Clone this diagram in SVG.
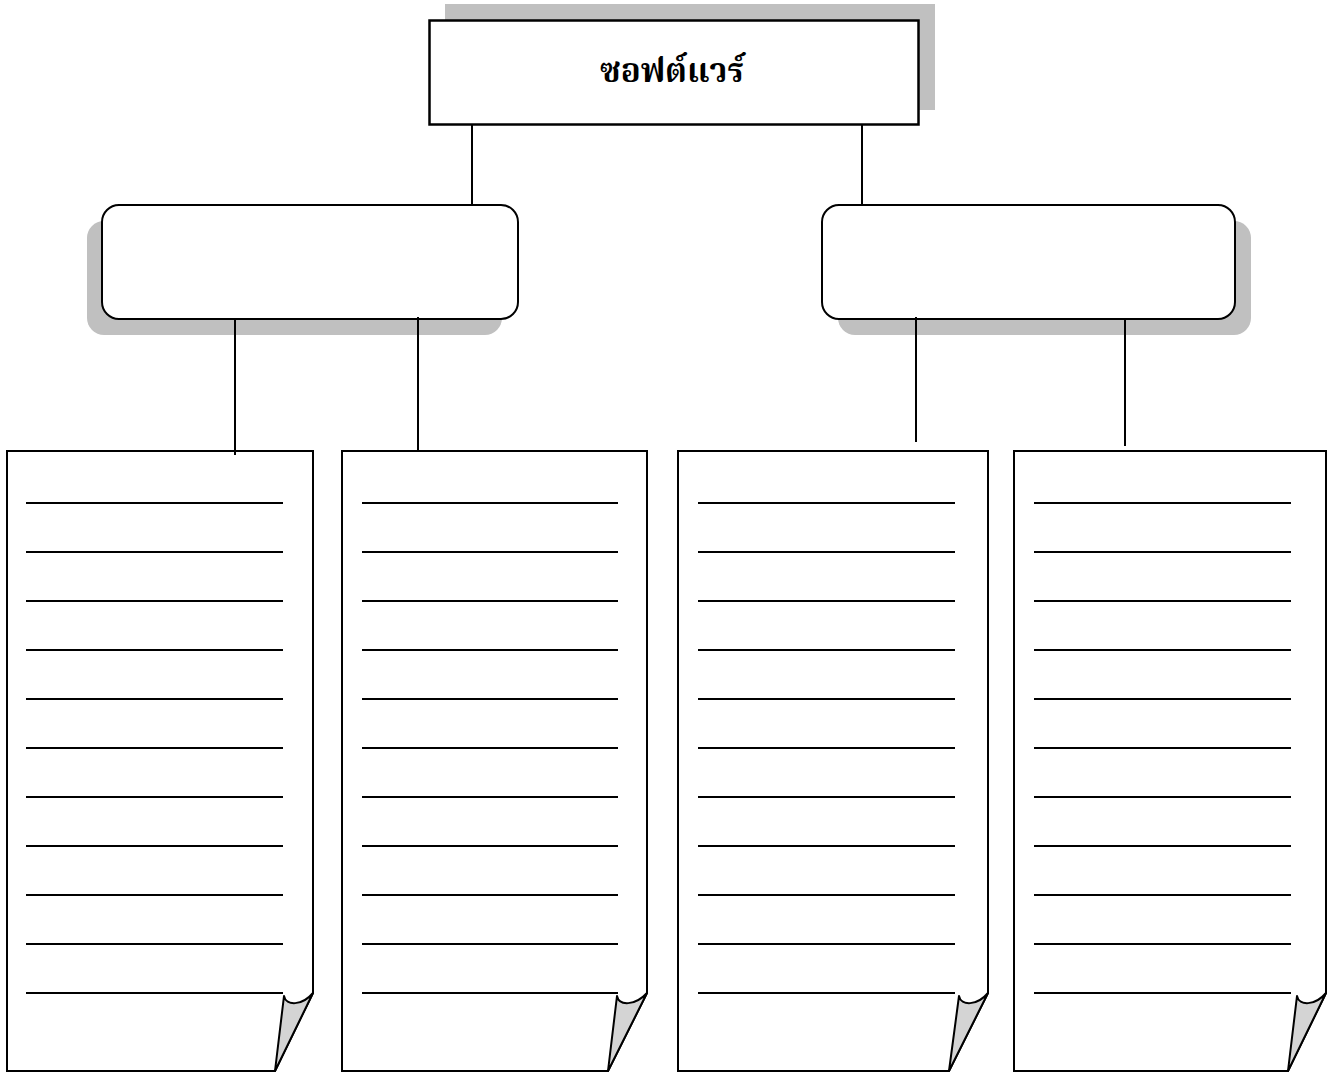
<svg xmlns="http://www.w3.org/2000/svg" width="1330" height="1073" viewBox="0 0 1330 1073">
<style>
.shadow{fill:#c0c0c0;stroke:none}
.box{fill:#fff;stroke:#000;stroke-width:2}
.conn{stroke:#000;stroke-width:2;fill:none}
.page{fill:#fff;stroke:#000;stroke-width:2;stroke-linejoin:miter}
.curl{fill:#d4d4d4;stroke:#000;stroke-width:2;stroke-linejoin:round}
.rule{stroke:#000;stroke-width:2}
.title{font-family:"Liberation Serif","Noto Serif Thai","Noto Sans Thai","DejaVu Serif",serif;font-weight:bold;font-size:33px;fill:#000}
</style>
<rect width="1330" height="1073" fill="#fff"/>
<g id="root">
<rect class="shadow" x="445" y="4" width="490" height="106"/>
<rect x="429.5" y="20.5" width="489" height="104" fill="#fff" stroke="#000" stroke-width="2.5"/>
<text class="title" x="672" y="82" text-anchor="middle">ซอฟต์แวร์</text>
</g>
<g id="left-box">
<rect class="shadow" x="87" y="221" width="415" height="114" rx="17"/>
<rect class="box" x="102" y="205" width="416" height="114" rx="17"/>
</g>
<g id="right-box">
<rect class="shadow" x="838" y="221" width="413" height="114" rx="17"/>
<rect class="box" x="822" y="205" width="413" height="114" rx="17"/>
</g>
<g id="page1">
<path class="page" d="M7,451 H313 V993 L275,1071 H7 Z"/>
<path class="curl" d="M313,993 L275,1071 L284,996 C286,1006 302,1006 313,993 Z"/>
<g class="rule">
<line x1="26" y1="503" x2="283" y2="503"/><line x1="26" y1="552" x2="283" y2="552"/><line x1="26" y1="601" x2="283" y2="601"/><line x1="26" y1="650" x2="283" y2="650"/><line x1="26" y1="699" x2="283" y2="699"/><line x1="26" y1="748" x2="283" y2="748"/><line x1="26" y1="797" x2="283" y2="797"/><line x1="26" y1="846" x2="283" y2="846"/><line x1="26" y1="895" x2="283" y2="895"/><line x1="26" y1="944" x2="283" y2="944"/><line x1="26" y1="993" x2="283" y2="993"/>
</g>
</g>
<g id="page2">
<path class="page" d="M342,451 H647 V993 L608,1071 H342 Z"/>
<path class="curl" d="M647,993 L608,1071 L617,996 C619,1006 635,1006 647,993 Z"/>
<g class="rule">
<line x1="362" y1="503" x2="618" y2="503"/><line x1="362" y1="552" x2="618" y2="552"/><line x1="362" y1="601" x2="618" y2="601"/><line x1="362" y1="650" x2="618" y2="650"/><line x1="362" y1="699" x2="618" y2="699"/><line x1="362" y1="748" x2="618" y2="748"/><line x1="362" y1="797" x2="618" y2="797"/><line x1="362" y1="846" x2="618" y2="846"/><line x1="362" y1="895" x2="618" y2="895"/><line x1="362" y1="944" x2="618" y2="944"/><line x1="362" y1="993" x2="618" y2="993"/>
</g>
</g>
<g id="page3">
<path class="page" d="M678,451 H988 V993 L949,1071 H678 Z"/>
<path class="curl" d="M988,993 L949,1071 L959,996 C961,1006 977,1006 988,993 Z"/>
<g class="rule">
<line x1="698" y1="503" x2="955" y2="503"/><line x1="698" y1="552" x2="955" y2="552"/><line x1="698" y1="601" x2="955" y2="601"/><line x1="698" y1="650" x2="955" y2="650"/><line x1="698" y1="699" x2="955" y2="699"/><line x1="698" y1="748" x2="955" y2="748"/><line x1="698" y1="797" x2="955" y2="797"/><line x1="698" y1="846" x2="955" y2="846"/><line x1="698" y1="895" x2="955" y2="895"/><line x1="698" y1="944" x2="955" y2="944"/><line x1="698" y1="993" x2="955" y2="993"/>
</g>
</g>
<g id="page4">
<path class="page" d="M1014,451 H1326 V993 L1288,1071 H1014 Z"/>
<path class="curl" d="M1326,993 L1288,1071 L1297,996 C1299,1006 1315,1006 1326,993 Z"/>
<g class="rule">
<line x1="1034" y1="503" x2="1291" y2="503"/><line x1="1034" y1="552" x2="1291" y2="552"/><line x1="1034" y1="601" x2="1291" y2="601"/><line x1="1034" y1="650" x2="1291" y2="650"/><line x1="1034" y1="699" x2="1291" y2="699"/><line x1="1034" y1="748" x2="1291" y2="748"/><line x1="1034" y1="797" x2="1291" y2="797"/><line x1="1034" y1="846" x2="1291" y2="846"/><line x1="1034" y1="895" x2="1291" y2="895"/><line x1="1034" y1="944" x2="1291" y2="944"/><line x1="1034" y1="993" x2="1291" y2="993"/>
</g>
</g>
<g id="connectors">
<line class="conn" x1="472" y1="125" x2="472" y2="205"/>
<line class="conn" x1="862" y1="125" x2="862" y2="205"/>
<line class="conn" x1="235" y1="319" x2="235" y2="455"/>
<line class="conn" x1="418" y1="317" x2="418" y2="451"/>
<line class="conn" x1="916" y1="317" x2="916" y2="442"/>
<line class="conn" x1="1125" y1="319" x2="1125" y2="446"/>
</g>
</svg>
